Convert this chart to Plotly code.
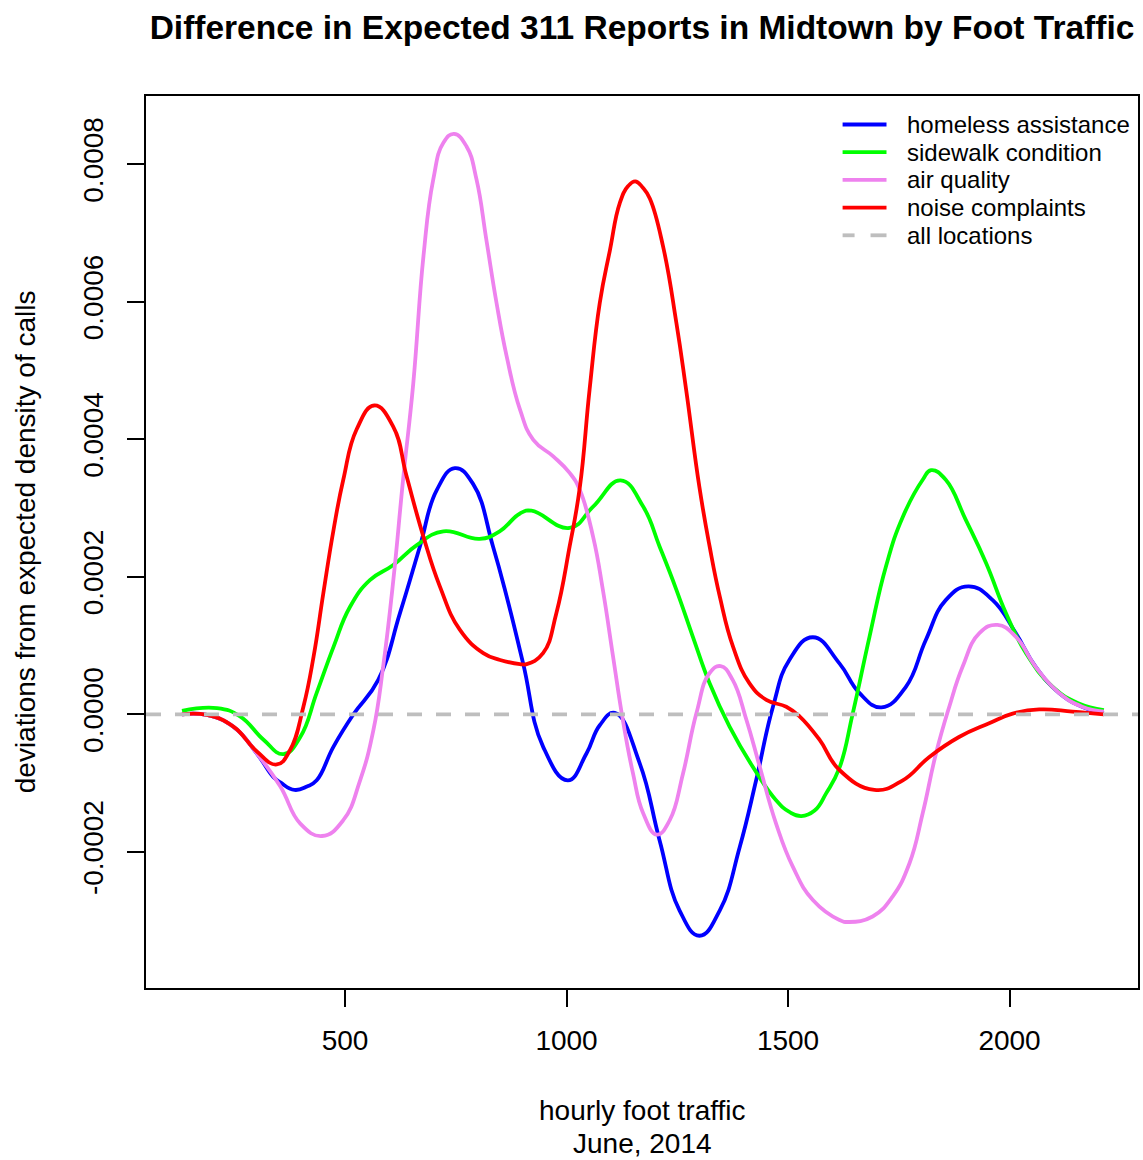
import plotly.graph_objects as go

# ---- data ----
homeless_x = [132, 188, 248, 301, 338, 354, 386, 414, 436, 474, 519, 575, 624, 669, 707, 748, 789, 834, 865,
              902, 947, 1003, 1045, 1075, 1109, 1165, 1210, 1255, 1300, 1346, 1391, 1428, 1466, 1503, 1556,
              1616, 1661, 1711, 1766, 1811, 1856, 1907, 1962, 2014, 2059, 2112, 2164, 2213]
homeless_y = [0.0, -0.01e-4, -0.18e-4, -0.57e-4, -0.91e-4, -0.99e-4, -1.10e-4, -1.05e-4, -0.96e-4, -0.47e-4,
              0.0, 0.50e-4, 1.47e-4, 2.44e-4, 3.26e-4, 3.58e-4, 3.35e-4, 2.44e-4, 1.71e-4, 0.74e-4,
              -0.47e-4, -0.96e-4, -0.57e-4, -0.16e-4, 0.02e-4, -0.71e-4, -1.83e-4, -2.85e-4, -3.22e-4,
              -2.85e-4, -1.93e-4, -0.96e-4, 0.11e-4, 0.79e-4, 1.12e-4, 0.74e-4, 0.31e-4, 0.10e-4, 0.40e-4,
              1.08e-4, 1.66e-4, 1.86e-4, 1.66e-4, 1.18e-4, 0.69e-4, 0.31e-4, 0.11e-4, 0.02e-4]

sidewalk_x = [132, 211, 263, 316, 361, 399, 436, 474, 511, 556, 609, 662, 722, 804, 849, 895, 921, 1007,
              1060, 1122, 1173, 1210, 1248, 1285, 1323, 1368, 1420, 1473, 1503, 1530, 1560, 1586, 1616,
              1646, 1684, 1721, 1759, 1804, 1823, 1856, 1901, 1947, 1992, 2037, 2097, 2155, 2213]
sidewalk_y = [0.05e-4, 0.09e-4, -0.03e-4, -0.37e-4, -0.58e-4, -0.33e-4, 0.31e-4, 0.98e-4, 1.56e-4, 1.95e-4,
              2.17e-4, 2.46e-4, 2.66e-4, 2.55e-4, 2.66e-4, 2.92e-4, 2.96e-4, 2.71e-4, 3.02e-4, 3.40e-4,
              3.02e-4, 2.44e-4, 1.81e-4, 1.13e-4, 0.45e-4, -0.18e-4, -0.76e-4, -1.25e-4, -1.42e-4,
              -1.48e-4, -1.40e-4, -1.15e-4, -0.78e-4, 0.01e-4, 1.13e-4, 2.15e-4, 2.87e-4, 3.41e-4,
              3.55e-4, 3.41e-4, 2.83e-4, 2.20e-4, 1.47e-4, 0.89e-4, 0.40e-4, 0.16e-4, 0.06e-4]

air_x = [132, 188, 248, 301, 354, 399, 448, 496, 534, 564, 586, 609, 631, 654, 677, 699, 722, 746, 774,
         797, 819, 842, 865, 895, 925, 970, 1007, 1030, 1060, 1082, 1105, 1127, 1150, 1173, 1204, 1233,
         1263, 1293, 1323, 1348, 1375, 1406, 1436, 1473, 1511, 1556, 1616, 1638, 1691, 1736, 1774, 1804,
         1834, 1864, 1894, 1932, 1973, 2014, 2059, 2112, 2164, 2213]
air_y = [0.0, -0.01e-4, -0.18e-4, -0.57e-4, -1.05e-4, -1.59e-4, -1.77e-4, -1.54e-4, -0.96e-4, -0.23e-4,
         0.69e-4, 1.95e-4, 3.41e-4, 4.81e-4, 6.66e-4, 7.77e-4, 8.31e-4, 8.44e-4, 8.26e-4, 7.77e-4, 6.90e-4,
         5.98e-4, 5.20e-4, 4.43e-4, 3.99e-4, 3.75e-4, 3.51e-4, 3.26e-4, 2.58e-4, 1.81e-4, 0.84e-4,
         -0.08e-4, -0.86e-4, -1.44e-4, -1.75e-4, -1.54e-4, -0.86e-4, 0.01e-4, 0.60e-4, 0.70e-4, 0.50e-4,
         -0.08e-4, -0.76e-4, -1.59e-4, -2.22e-4, -2.70e-4, -2.99e-4, -3.02e-4, -2.94e-4, -2.65e-4,
         -2.17e-4, -1.44e-4, -0.57e-4, 0.11e-4, 0.69e-4, 1.18e-4, 1.30e-4, 1.13e-4, 0.69e-4, 0.31e-4,
         0.11e-4, 0.04e-4]

noise_x = [132, 188, 248, 301, 346, 376, 406, 429, 451, 474, 496, 526, 566, 609, 639, 677, 714, 759, 812,
           850, 895, 910, 947, 977, 1007, 1030, 1052, 1075, 1098, 1120, 1139, 1155, 1172, 1188, 1218, 1248,
           1270, 1300, 1323, 1346, 1376, 1413, 1451, 1496, 1526, 1571, 1616, 1695, 1759, 1819, 1886, 1954,
           2007, 2067, 2142, 2213]
noise_y = [0.0, -0.01e-4, -0.18e-4, -0.54e-4, -0.73e-4, -0.52e-4, 0.11e-4, 0.84e-4, 1.76e-4, 2.68e-4,
           3.41e-4, 4.14e-4, 4.49e-4, 4.18e-4, 3.46e-4, 2.58e-4, 1.86e-4, 1.23e-4, 0.89e-4, 0.79e-4,
           0.73e-4, 0.73e-4, 0.89e-4, 1.47e-4, 2.44e-4, 3.30e-4, 4.72e-4, 5.98e-4, 6.75e-4, 7.43e-4,
           7.68e-4, 7.75e-4, 7.66e-4, 7.50e-4, 6.80e-4, 5.69e-4, 4.72e-4, 3.30e-4, 2.44e-4, 1.71e-4,
           0.98e-4, 0.45e-4, 0.21e-4, 0.11e-4, -0.03e-4, -0.37e-4, -0.81e-4, -1.10e-4, -0.96e-4,
           -0.62e-4, -0.33e-4, -0.13e-4, 0.01e-4, 0.07e-4, 0.04e-4, 0.0]

baseline_x = [50.7, 2290]
baseline_y = [0.0, 0.0]

x_tick_vals = [500, 1000, 1500, 2000]
x_tick_text = ["500", "1000", "1500", "2000"]
y_tick_vals = [-0.0002, 0.0, 0.0002, 0.0004, 0.0006, 0.0008]
y_tick_text = ["-0.0002", "0.0000", "0.0002", "0.0004", "0.0006", "0.0008"]

series = [
    ("homeless assistance", homeless_x, homeless_y, "#0000FF"),
    ("sidewalk condition", sidewalk_x, sidewalk_y, "#00FF00"),
    ("air quality", air_x, air_y, "#EE82EE"),
    ("noise complaints", noise_x, noise_y, "#FF0000"),
]
base_name, base_color, base_dash = "all locations", "#BEBEBE", "15px,14px"

FONT = "Liberation Sans, Arial, Helvetica, sans-serif"
LW = 3.8

# plot-area geometry in pixels (for placing the legend, like R's legend())
W, H = 1143, 1160
ML, MR, MT, MB = 146, 3, 96, 172
PW, PH = W - ML - MR, H - MT - MB


def px_to_paper_x(px):
    return (px - ML) / PW


def py_to_paper_y(py):
    return (H - MB - py) / PH


fig = go.Figure()
for name, xs, ys, col in series:
    fig.add_trace(go.Scatter(x=xs, y=ys, mode="lines", name=name, showlegend=False,
                             line=dict(color=col, width=LW, shape="spline", smoothing=1.3)))
fig.add_trace(go.Scatter(x=baseline_x, y=baseline_y, mode="lines", name=base_name, showlegend=False,
                         line=dict(color=base_color, width=LW, dash=base_dash)))

# legend (top right, no box) drawn like R's legend()
legend_items = [(n, c, "solid") for n, _, _, c in series] + [(base_name, base_color, base_dash)]
row0, row_step = 124.5, 27.7
shapes, annotations = [], []
for i, (name, col, dash) in enumerate(legend_items):
    yy = py_to_paper_y(row0 + i * row_step)
    if dash == "solid":
        shapes.append(dict(type="line", xref="paper", yref="paper",
                           x0=px_to_paper_x(844), x1=px_to_paper_x(888), y0=yy, y1=yy,
                           line=dict(color=col, width=LW)))
    else:
        for a, b in [(844, 856), (872, 888)]:
            shapes.append(dict(type="line", xref="paper", yref="paper",
                               x0=px_to_paper_x(a), x1=px_to_paper_x(b), y0=yy, y1=yy,
                               line=dict(color=col, width=LW)))
    annotations.append(dict(text=name, xref="paper", yref="paper", x=px_to_paper_x(907), y=yy,
                            xanchor="left", yanchor="middle", showarrow=False,
                            font=dict(family=FONT, size=24, color="black")))

annotations += [
    dict(text="hourly foot traffic", xref="paper", yref="paper", x=0.5, y=py_to_paper_y(1110),
         xanchor="center", yanchor="middle", showarrow=False,
         font=dict(family=FONT, size=28, color="black")),
    dict(text="June, 2014", xref="paper", yref="paper", x=0.5, y=py_to_paper_y(1143),
         xanchor="center", yanchor="middle", showarrow=False,
         font=dict(family=FONT, size=28, color="black")),
    dict(text="deviations from expected density of calls", xref="paper", yref="paper",
         x=px_to_paper_x(25), y=0.5, xanchor="center", yanchor="middle", textangle=-90,
         showarrow=False, font=dict(family=FONT, size=28, color="black")),
]

fig.update_layout(
    width=W, height=H,
    margin=dict(l=ML, r=MR, t=MT, b=MB),
    paper_bgcolor="white", plot_bgcolor="white",
    font=dict(family=FONT, size=28, color="black"),
    title=dict(text="<b>Difference in Expected 311 Reports in Midtown by Foot Traffic</b>",
               x=0.5, xref="paper", xanchor="center",
               y=1 - 27 / H, yref="container", yanchor="middle",
               font=dict(family=FONT, size=33.5, color="black")),
    showlegend=False,
    xaxis=dict(range=[50.7, 2290], showgrid=False, zeroline=False,
               showline=True, mirror=True, linecolor="black", linewidth=1.5,
               ticks="outside", ticklen=17, tickwidth=1.5, tickcolor="black",
               tickvals=x_tick_vals, ticktext=x_tick_text, ticklabelstandoff=10,
               tickfont=dict(family=FONT, size=28, color="black")),
    yaxis=dict(range=[-3.98e-4, 8.99e-4], showgrid=False, zeroline=False,
               showline=True, mirror=True, linecolor="black", linewidth=1.5,
               ticks="outside", ticklen=17, tickwidth=1.5, tickcolor="black",
               tickvals=y_tick_vals, ticktext=y_tick_text, tickangle=-90, ticklabelstandoff=13,
               tickfont=dict(family=FONT, size=28, color="black")),
    shapes=shapes,
    annotations=annotations,
)

fig.write_html("out.html")
